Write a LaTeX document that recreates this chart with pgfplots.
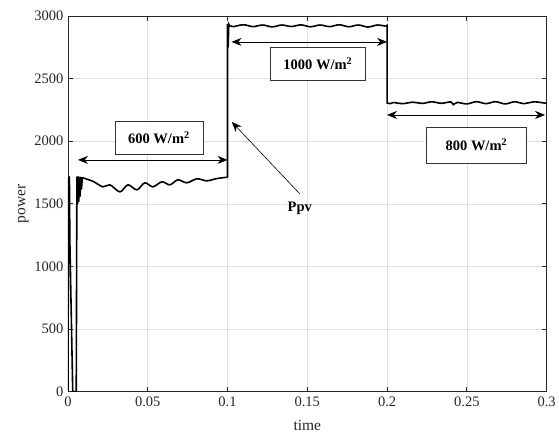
\documentclass[border=0pt]{standalone}
\usepackage{pgfplots}
\pgfplotsset{compat=1.18}
\usepackage{fontspec}
\setmainfont{Liberation Serif}
\usetikzlibrary{arrows.meta}
\begin{document}
\begin{tikzpicture}[x=1pt,y=1pt]
\begin{axis}[
  scale only axis,
  width=479pt, height=376pt,
  xmin=0, xmax=0.3, ymin=0, ymax=3000,
  xtick={0,0.05,0.1,0.15,0.2,0.25,0.3},
  ytick={0,500,1000,1500,2000,2500,3000},
  /pgf/number format/assume math mode=true,
  xticklabel style={/pgf/number format/fixed, /pgf/number format/precision=2, yshift=-2pt},
  yticklabel style={/pgf/number format/fixed, /pgf/number format/1000 sep={}, xshift=-1pt},
  scaled x ticks=false, scaled y ticks=false,
  tick align=inside,
  major tick length=5pt,
  xtick pos=both, ytick pos=both,
  grid=major,
  grid style={line width=0.6pt, color=black!12},
  axis line style={line width=0.9pt, color=black!85},
  tick style={line width=0.9pt, color=black!85},
  ticklabel style={font=\fontsize{14.5}{16}\selectfont, color=black!85},
  xlabel={time}, ylabel={power},
  label style={font=\fontsize{15.5}{17}\selectfont, color=black!85},
  xlabel style={yshift=-6pt},
  ylabel style={yshift=-1pt},
  clip=true,
]
% start-up transient
\addplot[black, line width=1.6pt, line join=round] coordinates {
(0,0) (0.0004,1700) (0.0009,1715) (0.0012,1200) (0.003,0) (0.0052,0)
(0.0056,1715) (0.006,1500) (0.0064,1715) (0.0068,1520) (0.0072,1712)
(0.0076,1560) (0.008,1712) (0.0085,1620) (0.009,1710) (0.0094,1707)
};
% 600 W/m2 segment
\addplot[black, line width=1.6pt, smooth, tension=0.55] coordinates {
(0.0094,1707) (0.0157,1680) (0.0219,1636) (0.0263,1652) (0.0326,1596)
(0.0376,1652) (0.0432,1612) (0.0482,1668) (0.0532,1636) (0.0589,1676)
(0.0639,1652) (0.0689,1692) (0.0745,1668) (0.0808,1700) (0.0870,1684)
(0.0933,1702) (0.0995,1712)
};
% jump to 1000 W/m2
\addplot[black, line width=1.6pt] coordinates {
(0.0995,1712) (0.1,1715) (0.1,2935) (0.1004,2750) (0.1008,2935) (0.1015,2920) (0.104,2915)
};
\addplot[black, line width=1.6pt, smooth, tension=0.55] coordinates {
(0.104,2915) (0.110,2930) (0.116,2915) (0.122,2928) (0.128,2913) (0.134,2928)
(0.140,2916) (0.146,2929) (0.152,2914) (0.158,2928) (0.164,2915) (0.170,2930)
(0.176,2914) (0.182,2928) (0.188,2912) (0.194,2928) (0.199,2918)
};
% drop to 800 W/m2
\addplot[black, line width=1.6pt] coordinates {
(0.199,2918) (0.2,2925) (0.2,2305) (0.202,2300) (0.204,2310)
};
\addplot[black, line width=1.6pt, smooth, tension=0.55] coordinates {
(0.204,2310) (0.210,2300) (0.216,2312) (0.222,2302) (0.228,2315) (0.234,2303)
(0.240,2314) (0.2415,2292) (0.244,2310) (0.250,2298) (0.256,2316) (0.262,2300)
(0.268,2316) (0.274,2298) (0.280,2315) (0.286,2300) (0.292,2315) (0.3,2302)
};
% annotations
\draw[{Stealth[length=10pt,width=8pt]}-{Stealth[length=10pt,width=8pt]}, line width=0.6pt]
  (axis cs:0.0063,1851) -- (axis cs:0.1,1851);
\draw[{Stealth[length=10pt,width=8pt]}-{Stealth[length=10pt,width=8pt]}, line width=0.6pt]
  (axis cs:0.1025,2793) -- (axis cs:0.2,2793);
\draw[{Stealth[length=10pt,width=8pt]}-{Stealth[length=10pt,width=8pt]}, line width=0.6pt]
  (axis cs:0.2,2210) -- (axis cs:0.299,2210);
\draw[-{Stealth[length=10pt,width=8pt]}, line width=0.6pt]
  (axis cs:0.1453,1580) -- (axis cs:0.1027,2154);
\node[font=\fontsize{14.5}{16}\selectfont\bfseries] at (axis cs:0.1453,1468) {Ppv};
\node[draw=black!80, line width=0.6pt, fill=white, minimum width=88pt, minimum height=33pt,
  font=\fontsize{14.5}{16}\selectfont\bfseries] at (axis cs:0.057,2027) {600 W/m\textsuperscript{2}};
\node[draw=black!80, line width=0.6pt, fill=white, minimum width=95pt, minimum height=33pt,
  font=\fontsize{14.5}{16}\selectfont\bfseries] at (axis cs:0.1566,2621) {1000 W/m\textsuperscript{2}};
\node[draw=black!80, line width=0.6pt, fill=white, minimum width=100pt, minimum height=36pt,
  font=\fontsize{14.5}{16}\selectfont\bfseries] at (axis cs:0.256,1971) {800 W/m\textsuperscript{2}};
\end{axis}
\useasboundingbox ([xshift=-68pt,yshift=-45pt]current axis.south west) rectangle ([xshift=12pt,yshift=16pt]current axis.north east);
\end{tikzpicture}
\end{document}
